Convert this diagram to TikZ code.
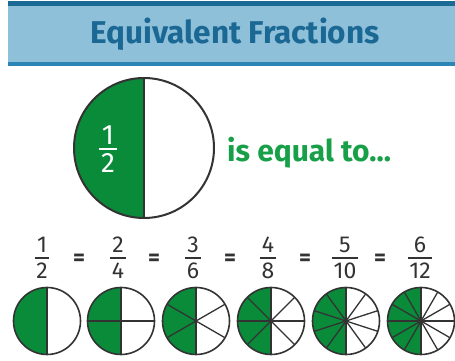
\documentclass[tikz,border=0pt]{standalone}
\usepackage{fontspec}
\setmainfont{Fira Sans}
\definecolor{hdlight}{HTML}{8EC0DA}
\definecolor{hddark}{HTML}{1B6A96}
\definecolor{hdband}{HTML}{2B86B5}
\definecolor{titleblue}{HTML}{1C6894}
\definecolor{fgreen}{HTML}{098B3A}
\definecolor{tgreen}{HTML}{17A048}
\definecolor{lc}{HTML}{333333}
\tikzset{
  titletext/.style={text=titleblue, font=\bfseries\fontsize{31.5}{34}\selectfont, inner sep=0pt},
  eqtext/.style={text=tgreen, font=\bfseries\fontsize{30}{32}\selectfont, inner sep=0pt},
  digit/.style={text=lc, font=\fontsize{23}{25}\selectfont, inner sep=0pt},
  eqsign/.style={text=lc, font=\bfseries\fontsize{23}{25}\selectfont, inner sep=0pt},
  bigdigit/.style={text=white, font=\fontsize{28}{30}\selectfont, inner sep=0pt},
  fracbar/.style={draw=lc, line width=1.8pt},
  slice/.style={draw=lc, line width=1.3pt},
  rim/.style={circle, draw=lc, line width=1.6pt, inner sep=0pt},
}
\begin{document}
\begin{tikzpicture}[x=1pt,y=1pt]
\useasboundingbox (0,0) rectangle (455,361);
% header band
\fill[hdlight] (8,299) rectangle (455,355);
\fill[hddark] (8,355) rectangle (455,360);
\fill[hdband] (8,295) rectangle (455,299);
\node[titletext] (title) at (235,327) {Equivalent Fractions};
% big circle
\coordinate (bc) at (144,213);
\fill[fgreen] (144,283) arc[start angle=90, end angle=270, radius=70] -- cycle;
\draw[lc, line width=2pt] (144,283) -- (144,143);
\node[rim, line width=2pt, minimum size=140pt] (big) at (bc) {};
\node[bigdigit, anchor=south] (bn) at (108,216) {1};
\node[bigdigit, anchor=north] (bd) at (108,208) {2};
\draw[draw=white, line width=2pt] ([shift={(-2,4)}]bd.north west) -- ([shift={(2,4)}]bd.north east);
\node[eqtext, anchor=base west] (eq) at (227,199) {is equal to...};
% fraction row
\foreach \x/\a/\b [count=\i] in {42/1/2,118/2/4,193/3/6,268/4/8,345/5/10,420/6/12} {
  \node[digit, anchor=south] (n\i) at (\x,108) {\a};
  \node[digit, anchor=north] (d\i) at (\x,98) {\b};
  \draw[fracbar] ([shift={(-1.5,5)}]d\i.north west) -- ([shift={(1.5,5)}]d\i.north east);
}
\foreach \x [count=\i] in {79,154,230,305,380} {
  \node[eqsign] (e\i) at (\x,101) {=};
}
% small circles
\foreach \cx/\nn [count=\i] in {47/2,121/4,196/6,271/8,346/10,421/12} {
  \fill[fgreen] (\cx,73.5) arc[start angle=90, end angle=270, radius=33.5] -- cycle;
  \foreach \k in {1,...,\nn} {
    \draw[slice] (\cx,40) -- ++({90+360*\k/\nn}:33.5);
  }
  \node[rim, minimum size=67pt] (c\i) at (\cx,40) {};
}
\end{tikzpicture}
\end{document}
